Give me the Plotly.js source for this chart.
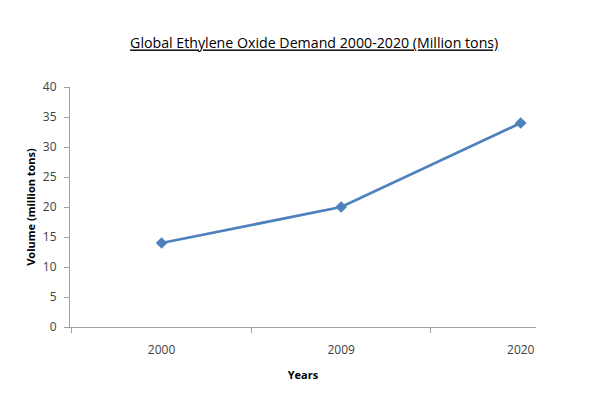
<!DOCTYPE html>
<html>
<head>
<meta charset="utf-8">
<script src="https://cdn.plot.ly/plotly-3.0.1.min.js"></script>
<style>html,body{margin:0;padding:0;background:#fff;}#chart{width:614px;height:399px;}</style>
</head>
<body>
<div id="chart"></div>
<script>
const years = ["2000", "2009", "2020"];
const demand = [14, 20, 34];
const yTicks = [0, 5, 10, 15, 20, 25, 30, 35, 40];

const trace = {
  x: years,
  y: demand,
  type: "scatter",
  mode: "lines+markers",
  line: {color: "#4F81BD", width: 2.75},
  marker: {symbol: "diamond", size: 9, color: "#4F81BD"},
  cliponaxis: false,
  hoverinfo: "x+y"
};

const layout = {
  width: 614,
  height: 399,
  margin: {l: 70, r: 78, t: 87, b: 72},
  paper_bgcolor: "#fff",
  plot_bgcolor: "#fff",
  showlegend: false,
  font: {family: "Open Sans, Liberation Sans, sans-serif", color: "#404040", size: 12},
  title: {
    text: "<u>Global Ethylene Oxide Demand 2000-2020 (Million tons)</u>",
    font: {family: "Open Sans, sans-serif", size: 14.2, color: "#000"},
    x: 0.524, xanchor: "center", xref: "paper",
    y: 47, yref: "container", yanchor: "middle"
  },
  xaxis: {
    type: "category",
    range: [-0.51, 2.085],
    showgrid: false,
    zeroline: false,
    showline: true,
    linecolor: "#A0A0A0",
    linewidth: 1,
    ticks: "outside",
    tickson: "boundaries",
    ticklen: 5,
    tickcolor: "#A0A0A0",
    ticklabelstandoff: 12,
    tickfont: {size: 12, color: "#404040"},
    title: {text: "<b>Years</b>", font: {size: 11, color: "#000"}, standoff: 13},
    automargin: false
  },
  yaxis: {
    range: [0, 40],
    tickvals: yTicks,
    ticktext: yTicks.map(String),
    showgrid: false,
    zeroline: false,
    showline: true,
    linecolor: "#A0A0A0",
    linewidth: 1,
    ticks: "outside",
    ticklen: 5,
    tickcolor: "#A0A0A0",
    ticklabelstandoff: 5,
    tickfont: {size: 12, color: "#404040"},
    title: {text: "<b>Volume (million tons)</b>", font: {size: 11, color: "#000"}, standoff: 5},
    automargin: false
  }
};

Plotly.newPlot("chart", [trace], layout, {displayModeBar: false, staticPlot: true});
</script>
</body>
</html>
